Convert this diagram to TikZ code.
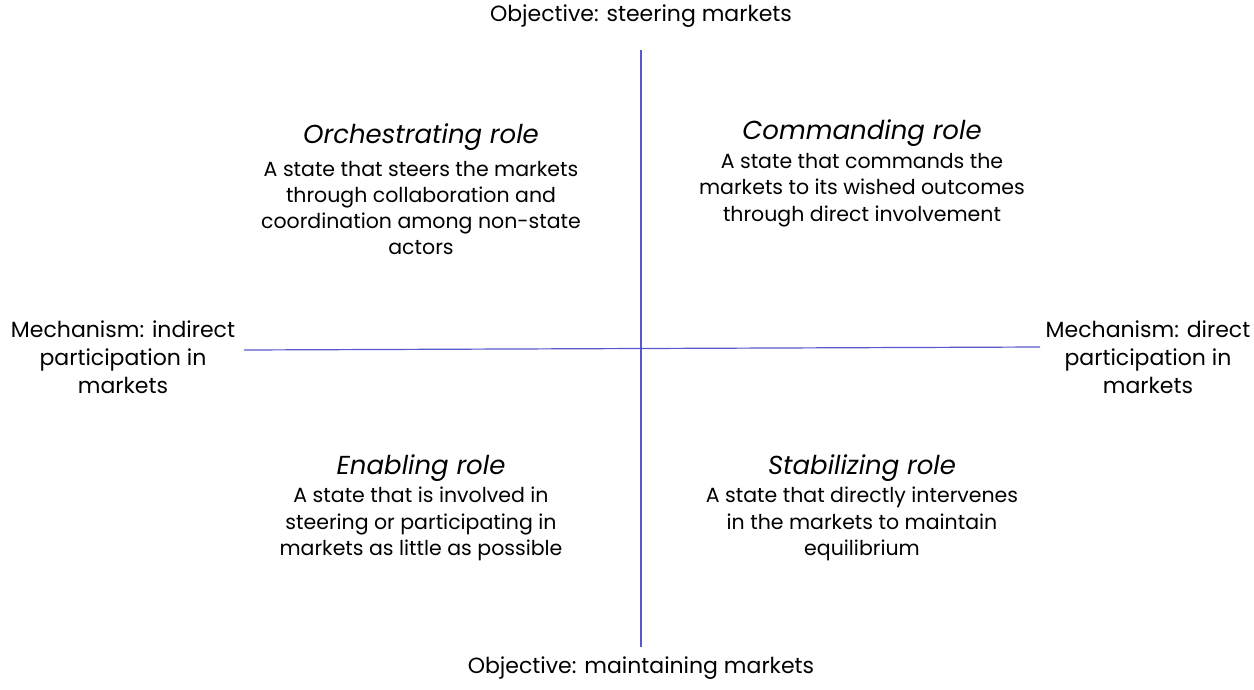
\documentclass[tikz,border=0pt]{standalone}
\usepackage{fontspec}
\setmainfont{Poppins}
\begin{document}
\begin{tikzpicture}[x=1pt,y=-1pt,
  axis/.style={draw=axisblue,line width=1.2pt},
  lbl/.style={align=center,font=\fontsize{22}{28}\selectfont,inner sep=0pt},
  role/.style={align=center,font=\fontsize{20.5}{26.3}\selectfont,inner sep=0pt},
  ttl/.style={font=\fontsize{26}{30}\selectfont\itshape,inner sep=0pt}]
\definecolor{axisblue}{RGB}{88,88,205}
\useasboundingbox (0,0) rectangle (1254,689);
\node[lbl] (top) at (641,16) {Objective: steering markets};
\node[lbl] (bot) at (641,668) {Objective: maintaining markets};
\coordinate (vt) at (641,50);
\coordinate (vb) at (641,647);
\coordinate (hl) at (244,350);
\coordinate (hr) at (1040,347);
\draw[axis] (vt) -- (vb);
\draw[axis] (hl) -- (hr);
\node[lbl] (left) at (123,357) {Mechanism: indirect\\participation in\\markets};
\node[lbl] (right) at (1148,357) {Mechanism: direct\\participation in\\markets};
\node[ttl] (orcht) at (421,137) {Orchestrating role};
\node[role] (orch) at (421,208) {A state that steers the markets\\through collaboration and\\coordination among non-state\\actors};
\node[ttl] (comt) at (862,133) {Commanding role};
\node[role] (com) at (862,190) {A state that commands the\\markets to its wished outcomes\\through direct involvement};
\node[ttl] (enat) at (421,468) {Enabling role};
\node[role] (ena) at (421,524) {A state that is involved in\\steering or participating in\\markets as little as possible};
\node[ttl] (stat) at (862,468) {Stabilizing role};
\node[role] (sta) at (862,524) {A state that directly intervenes\\in the markets to maintain\\equilibrium};
\end{tikzpicture}
\end{document}
